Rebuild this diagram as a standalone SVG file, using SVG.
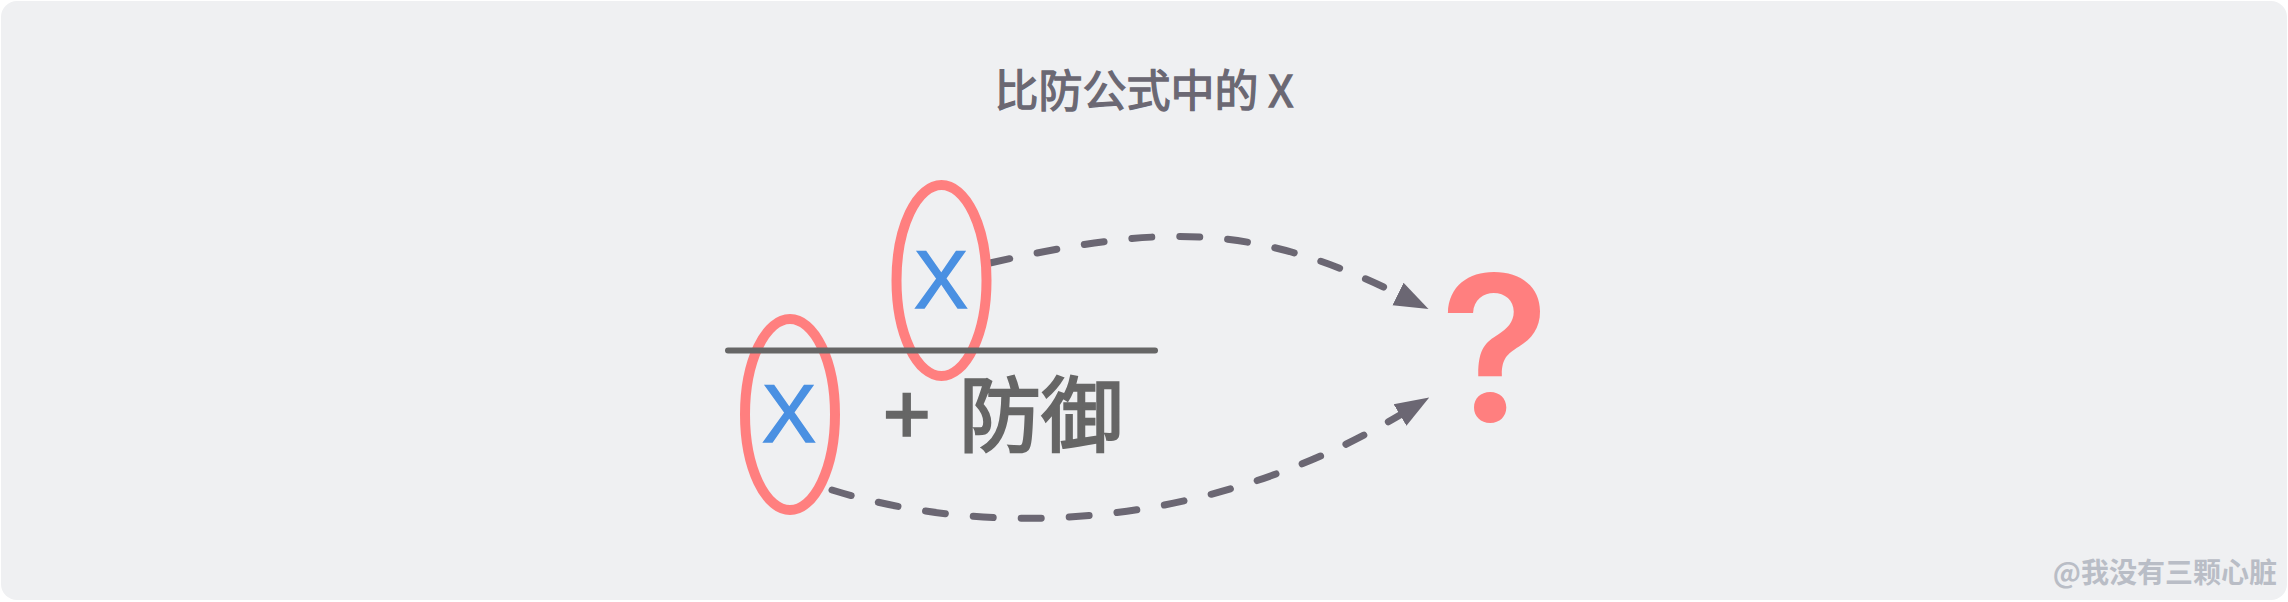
<svg xmlns="http://www.w3.org/2000/svg" width="2288" height="602" viewBox="0 0 2288 602">
  <style>
    .ring { fill: none; stroke: #ff7f7f; stroke-width: 10; }
    .var { font-family: "Liberation Sans", "Noto Sans", sans-serif; font-size: 81px; fill: #4a90e2; stroke: #4a90e2; stroke-width: 1.5; text-anchor: middle; }
    .conn { fill: none; stroke: #6b6773; stroke-width: 7; stroke-linecap: round; stroke-dasharray: 20 28; }
    .cjk { font-family: "Noto Sans CJK SC", "Noto Sans", sans-serif; }
  </style>
  <defs>
    <marker id="arrow" markerUnits="userSpaceOnUse" viewBox="0 -14 36 28" refX="0" refY="0" markerWidth="36" markerHeight="28" orient="auto">
      <path d="M34 0 L0 -12.5 L0 12.5 Z" fill="#6b6773"/>
    </marker>
  </defs>

  <rect x="0" y="0" width="2288" height="602" fill="#ffffff"/>
  <rect id="background" x="1" y="1" width="2286" height="599" rx="16" ry="16" fill="#eff0f2"/>

  <g id="title">
    <text class="cjk" x="1144" y="107" font-size="44" fill="#6b6873" stroke="#6b6873" stroke-width="1.3" text-anchor="middle">比防公式中的 X</text>
  </g>

  <g id="connectors">
    <path class="conn" d="M990 263 C1152 227 1246 219 1398 294" marker-end="url(#arrow)"/>
    <path class="conn" d="M832 490 C1001 542 1214.75 525.5 1400 415" marker-end="url(#arrow)"/>
  </g>

  <g id="node-x-numerator">
    <ellipse class="ring" cx="941.5" cy="280.5" rx="45" ry="95.5"/>
    <text class="var" x="941" y="308">X</text>
  </g>

  <g id="node-x-denominator">
    <ellipse class="ring" cx="790" cy="414.5" rx="45" ry="95.5"/>
    <text class="var" x="789" y="442">X</text>
  </g>

  <g id="fraction-bar">
    <line x1="728" y1="350.5" x2="1155" y2="350.5" stroke="#666666" stroke-width="6" stroke-linecap="round"/>
  </g>

  <g id="node-defense">
    <text class="cjk" x="884" y="445" font-size="82" fill="#666666" stroke="#666666" stroke-width="2.4">+ <tspan x="959">防御</tspan></text>
  </g>

  <g id="node-question">
    <text x="1495" y="421" font-family="Inter, Noto Sans, sans-serif" font-size="202" font-weight="600" fill="#ff7f7f" text-anchor="middle">?</text>
  </g>

  <g id="watermark">
    <text class="cjk" x="2277" y="583" font-size="28" font-weight="bold" fill="#b9bdc6" text-anchor="end">@我没有三颗心脏</text>
  </g>
</svg>
